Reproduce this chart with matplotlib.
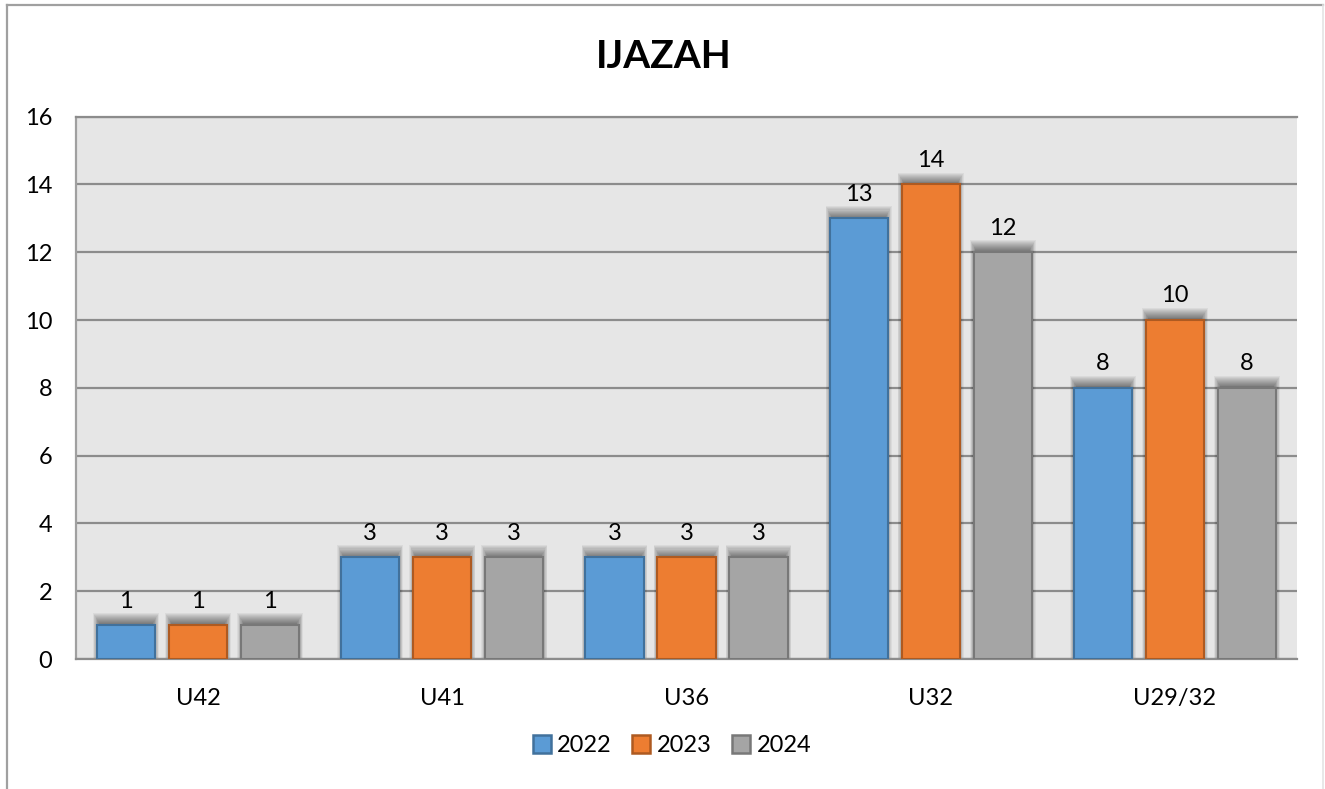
import numpy as np
import matplotlib.pyplot as plt
from matplotlib.patches import Rectangle
from matplotlib.lines import Line2D

categories = ["U42", "U41", "U36", "U32", "U29/32"]
years = ["2022", "2023", "2024"]
vals_2022 = [1, 3, 3, 13, 8]
vals_2023 = [1, 3, 3, 14, 10]
vals_2024 = [1, 3, 3, 12, 8]

fills = ["#5b9bd5", "#ed7d31", "#a5a5a5"]
edges = ["#41719c", "#ae5a21", "#787878"]

plt.rcParams['font.family'] = ['Lato', 'DejaVu Sans']

fig = plt.figure(figsize=(13.25, 7.89), dpi=100)
ax = fig.add_axes([76 / 1325, 130 / 789, (1297 - 76) / 1325, (659 - 117) / 789 + 0.0005])
ax.set_facecolor("#e6e6e6")

x = np.arange(len(categories))
width = 0.238
offset = 0.295

for i, (vals, fc, ec) in enumerate(zip([vals_2022, vals_2023, vals_2024], fills, edges)):
    xs = x + (i - 1) * offset
    # blurred shadow above each bar
    for xv, v in zip(xs, vals):
        for k in range(12):
            pad_x = k * 0.0025 - 0.012
            pad_y = 0.02 + k * 0.03
            ax.add_patch(Rectangle((xv - width / 2 - pad_x, 0), width + 2 * pad_x,
                                   v + pad_y, color="black", alpha=0.05,
                                   lw=0, zorder=2))
    ax.bar(xs, vals, width, color=fc, edgecolor=ec, linewidth=1.5, zorder=3)
    for xv, v in zip(xs, vals):
        ax.text(xv, v + 0.4, str(v), ha="center", va="bottom", fontsize=17, zorder=4)

ax.set_xlim(-0.5, len(categories) - 0.5)
ax.set_ylim(0, 16)
ax.set_yticks(np.arange(0, 17, 2))
ax.set_xticks(x)
ax.set_xticklabels(categories)
ax.tick_params(axis="both", length=0, labelsize=17)
ax.tick_params(axis="y", pad=17)
ax.tick_params(axis="x", pad=21)
ax.yaxis.grid(True, color="#8c8c8c", linewidth=1.6, zorder=1)
ax.set_axisbelow(True)
ax.spines["right"].set_visible(False)
ax.spines["left"].set_color("#a0a0a0")
ax.spines["top"].set_color("#8c8c8c")
ax.spines["bottom"].set_color("#8c8c8c")
for side in ["left", "top", "bottom"]:
    ax.spines[side].set_linewidth(1.6)

fig.text(664 / 1325, 1 - 57 / 789, "IJAZAH", ha="center", va="center",
         fontsize=28, fontweight="bold")

handles = [Line2D([], [], marker="s", linestyle="none", markersize=13,
                  markerfacecolor=fc, markeredgecolor=ec, markeredgewidth=1.8)
           for fc, ec in zip(fills, edges)]
fig.legend(handles, years, loc="center", bbox_to_anchor=(670 / 1325, 1 - 746 / 789),
           ncol=3, frameon=False, fontsize=17, handletextpad=0.1, columnspacing=0.7,
           handlelength=1.1)

# outer chart border
fig.add_artist(Line2D([7 / 1325, 7 / 1325], [0, 1 - 5 / 789], transform=fig.transFigure,
                      color="#a0a0a0", linewidth=1.6))
fig.add_artist(Line2D([7 / 1325, 1323 / 1325], [1 - 5 / 789, 1 - 5 / 789],
                      transform=fig.transFigure, color="#a0a0a0", linewidth=1.6))
fig.add_artist(Line2D([1323 / 1325, 1323 / 1325], [0, 1 - 5 / 789], transform=fig.transFigure,
                      color="#e4e4e4", linewidth=1.2))

fig.savefig("out.png", dpi=100)
